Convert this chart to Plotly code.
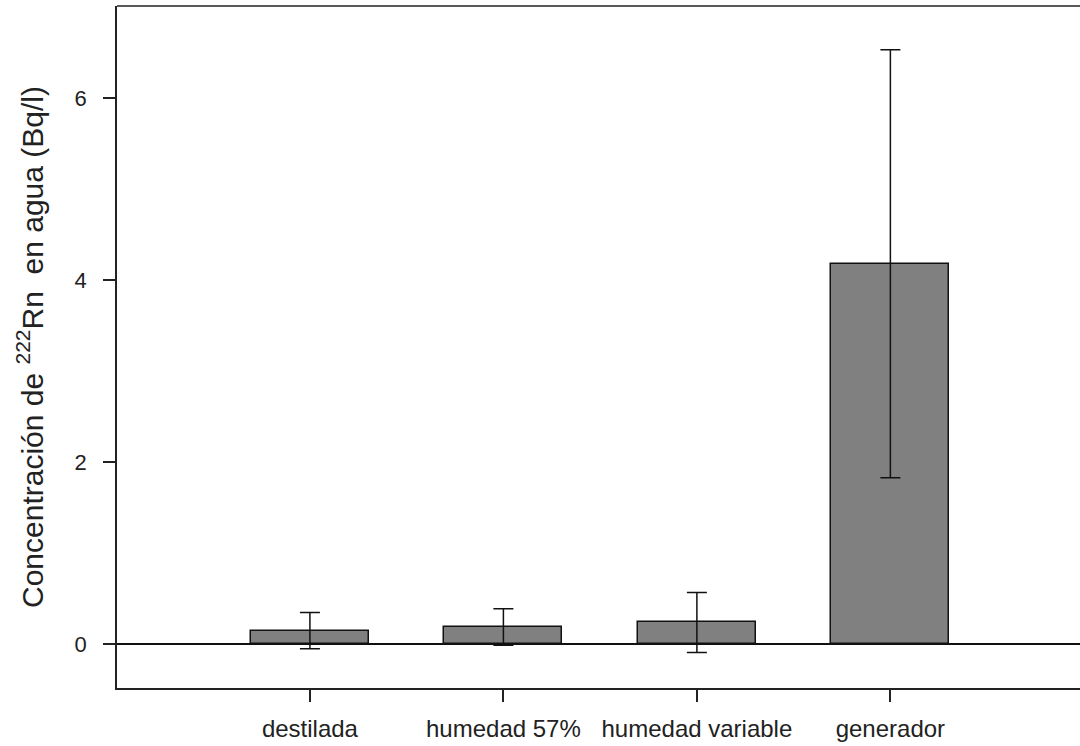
import plotly.graph_objects as go

categories = ["destilada", "humedad 57%", "humedad variable", "generador"]
values = [0.15, 0.19, 0.24, 4.18]
errors = [0.20, 0.20, 0.33, 2.35]
y_ticks = [0, 2, 4, 6]

FONT = "Liberation Sans, Arial, sans-serif"

fig = go.Figure()
fig.add_trace(go.Bar(
    x=list(range(len(categories))),
    y=values,
    width=0.61,
    marker=dict(color="#808080", line=dict(color="#111111", width=1.5)),
    error_y=dict(type="data", array=errors, visible=True, color="#111111",
                 thickness=1.5, width=10),
    showlegend=False,
))

fig.update_layout(
    width=1080, height=746,
    margin=dict(l=117, r=0, t=6, b=58),
    paper_bgcolor="white", plot_bgcolor="white",
    font=dict(family=FONT, color="#222222"),
    bargap=0,
    xaxis=dict(
        range=[-0.997, 3.98],
        tickmode="array", tickvals=list(range(len(categories))), ticktext=categories,
        showline=True, linecolor="#222222", linewidth=1.5,
        ticks="outside", ticklen=12, tickwidth=1.5, tickcolor="#222222",
        tickfont=dict(size=24, family=FONT, color="#222222"),
        ticklabelstandoff=6,
        showgrid=False, zeroline=False,
    ),
    yaxis=dict(
        range=[-0.48, 7.01],
        tickmode="array", tickvals=y_ticks, ticktext=[str(v) for v in y_ticks],
        showline=True, linecolor="#222222", linewidth=1.5,
        ticks="outside", ticklen=12, tickwidth=1.5, tickcolor="#222222",
        tickfont=dict(size=22, family=FONT, color="#222222"),
        ticklabelstandoff=12,
        showgrid=False,
        zeroline=True, zerolinecolor="#111111", zerolinewidth=1.5,
        title=dict(text="Concentración de <sup>222</sup>Rn  en agua (Bq/l)",
                   font=dict(size=30, family=FONT, color="#222222"), standoff=22),
    ),
    shapes=[dict(type="line", xref="paper", yref="paper", x0=0, x1=1, y0=1, y1=1,
                 line=dict(color="#222222", width=1.5))],
)

fig.write_html("out.html")
